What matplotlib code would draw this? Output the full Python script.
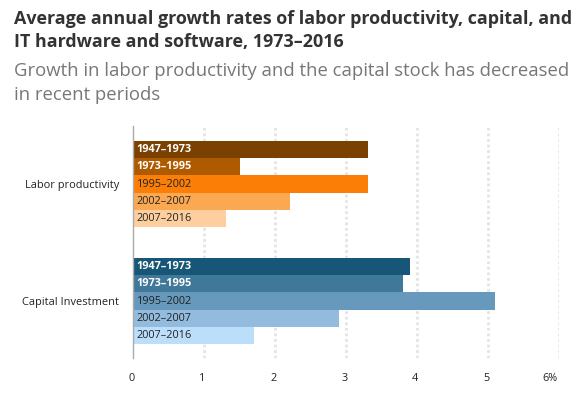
import matplotlib
matplotlib.use("Agg")
import matplotlib.pyplot as plt
import matplotlib.transforms as mtransforms
import numpy as np

plt.rcParams['font.family'] = ['Open Sans', 'DejaVu Sans']

categories = ["Labor productivity", "Capital Investment"]
periods = ["1947–1973", "1973–1995", "1995–2002", "2002–2007", "2007–2016"]
labor = [3.3, 1.5, 3.3, 2.2, 1.3]
capital = [3.9, 3.8, 5.1, 2.9, 1.7]
labor_colors = ["#7a4100", "#b05a00", "#fb7f07", "#fba852", "#fdcf9e"]
capital_colors = ["#175676", "#3f7899", "#6699bb", "#92bbdd", "#bbdefb"]
label_colors = ["white", "white", "#222222", "#222222", "#222222"]
label_weights = ["bold", "bold", "normal", "normal", "normal"]
xticks = [0, 1, 2, 3, 4, 5, 6]
xtick_labels = ["0", "1", "2", "3", "4", "5", "6%"]

fig = plt.figure(figsize=(5.84, 3.93), dpi=100)
ax = fig.add_axes([133.3/584, 1-358/393, (559.3-133.3)/584, (358-126)/393])

h = 0.146
series = [labor, capital]
colsets = [labor_colors, capital_colors]
for g, (vals, cols) in enumerate(zip(series, colsets)):
    for i, v in enumerate(vals):
        y = g + (i - 2) * h
        ax.barh(y, v, height=h, color=cols[i], zorder=3)
        ax.text(0.05, y, periods[i], color=label_colors[i], fontweight=label_weights[i],
                fontsize=7.8, va='center', ha='left', zorder=4)

ax.set_xlim(0, 6)
ax.set_ylim(1.487, -0.496)
ax.set_yticks([0, 1])
ax.set_yticklabels(categories, fontsize=7.9, color="#222222")
ax.tick_params(axis='y', length=0, pad=10)
ax.set_xticks(xticks)
ax.set_xticklabels(xtick_labels, fontsize=7.8, color="#222222")
ax.tick_params(axis='x', length=0, pad=11)
shift = mtransforms.ScaledTranslation(-2/100, 0, fig.dpi_scale_trans)
for lab in ax.get_xticklabels():
    lab.set_transform(lab.get_transform() + shift)
ax.get_xticklabels()[-1].set_horizontalalignment('right')

for s in ['top', 'right', 'bottom']:
    ax.spines[s].set_visible(False)
ax.spines['left'].set_color('#aaaaaa')
ax.spines['left'].set_linewidth(1)
ax.spines['left'].set_zorder(5)

for xv in xticks[1:]:
    ax.axvline(xv, color='#e4e4e4', linestyle=(0, (1, 1)), linewidth=2, zorder=1)

fig.text(14/584, 1-19/393, "Average annual growth rates of labor productivity, capital, and",
         fontsize=12.9, fontweight='bold', color='#333333', va='center', ha='left')
fig.text(14/584, 1-42/393, "IT hardware and software, 1973–2016",
         fontsize=12.9, fontweight='bold', color='#333333', va='center', ha='left')
fig.text(14/584, 1-71/393, "Growth in labor productivity and the capital stock has decreased",
         fontsize=13.3, color='#777777', va='center', ha='left')
fig.text(14/584, 1-95/393, "in recent periods",
         fontsize=13.3, color='#777777', va='center', ha='left')

fig.savefig("out.png", dpi=100)
